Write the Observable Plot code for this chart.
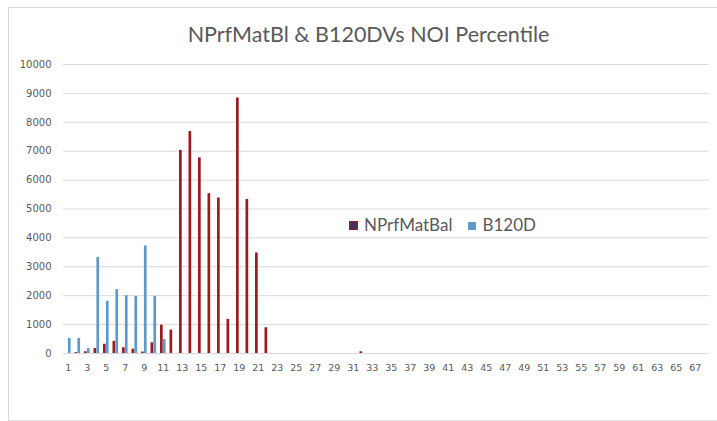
<!DOCTYPE html>
<html><head><meta charset="utf-8">
<script src="https://cdn.jsdelivr.net/npm/d3@7"></script>
<script src="https://cdn.jsdelivr.net/npm/@observablehq/plot@0.6"></script>
<style>
body{margin:0;background:#fff;}
#wrap{position:relative;width:717px;height:421px;overflow:hidden;background:#fff;}
#frame{position:absolute;left:8px;top:7px;width:720px;height:412px;border-left:1px solid #d9d9d9;border-top:1px solid #d9d9d9;border-bottom:1px solid #e6e6e6;}
#title{position:absolute;left:10px;top:20px;width:717px;text-align:center;font-family:Lato,"Open Sans",sans-serif;font-size:21.5px;line-height:28px;color:#595959;}
#legend{position:absolute;left:349px;top:214px;font-family:Lato,"Open Sans",sans-serif;font-size:17px;line-height:22px;color:#595959;white-space:nowrap;}
#legend span.sw{display:inline-block;width:8px;height:8px;vertical-align:middle;margin-right:6px;position:relative;top:-1px;}
#legend span.item{margin-right:16px;}
#chart{position:absolute;left:0;top:0;}
</style></head><body>
<div id="wrap"><div id="frame"></div><div id="chart"></div><div id="title"></div><div id="legend"></div></div>
<script>
const chartTitle = "NPrfMatBl & B120DVs NOI Percentile";
const seriesNames = ["NPrfMatBal", "B120D"];
const seriesColors = ["#9a1b22", "#5b9bcc"];
const categories = [1,2,3,4,5,6,7,8,9,10,11,12,13,14,15,16,17,18,19,20,21,22,23,24,25,26,27,28,29,30,31,32,33,34,35,36,37,38,39,40,41,42,43,44,45,46,47,48,49,50,51,52,53,54,55,56,57,58,59,60,61,62,63,64,65,66,67,68];
const nprfMatBal = [0,30,60,170,320,420,200,150,50,370,980,810,7030,7680,6770,5530,5380,1180,8840,5330,3480,890,0,0,0,0,0,0,0,0,0,60,0,0,0,0,0,0,0,0,0,0,0,0,0,0,0,0,0,0,0,0,0,0,0,0,0,0,0,0,0,0,0,0,0,0,0,0];
const b120d = [520,520,170,3320,1810,2210,2000,1980,3720,1980,480,0,0,0,0,0,0,0,0,0,0,0,0,0,0,0,0,0,0,0,0,0,0,0,0,0,0,0,0,0,0,0,0,0,0,0,0,0,0,0,0,0,0,0,0,0,0,0,0,0,0,0,0,0,0,0,0,0];
const yTicks = [0,1000,2000,3000,4000,5000,6000,7000,8000,9000,10000];
const xTickLabels = [1,3,5,7,9,11,13,15,17,19,21,23,25,27,29,31,33,35,37,39,41,43,45,47,49,51,53,55,57,59,61,63,65,67];

const redData = categories.map((c, i) => ({cat: c, value: nprfMatBal[i]}));
const blueData = categories.map((c, i) => ({cat: c, value: b120d[i]}));

document.getElementById("title").textContent = chartTitle;
document.getElementById("legend").innerHTML =
  `<span class="item"><span class="sw" style="background:#4a2f5a;border:1px solid ${seriesColors[0]};width:7px;height:7px"></span>${seriesNames[0]}</span>` +
  `<span class="item"><span class="sw" style="background:${seriesColors[1]}"></span>${seriesNames[1]}</span>`;

const plot = Plot.plot({
  width: 717,
  height: 421,
  marginLeft: 63,
  marginRight: 8,
  marginTop: 64,
  marginBottom: 68,
  style: {fontFamily: "DejaVu Sans", fontSize: "9.5px", color: "#595959", background: "transparent"},
  x: {type: "band", domain: categories, padding: 0},
  y: {domain: [0, 10000]},
  marks: [
    Plot.gridY(yTicks, {stroke: "#d9d9d9", strokeOpacity: 1}),
    Plot.barY(redData, {x: "cat", y: "value", fill: seriesColors[0], insetLeft: 2.0, insetRight: 4.8}),
    Plot.barY(blueData, {x: "cat", y: "value", fill: seriesColors[1], insetLeft: 4.9, insetRight: 1.9}),
    Plot.axisY(yTicks, {tickSize: 0, tickPadding: 12, tickFormat: d => String(d), label: null, fill: "#595959", fontSize: 10}),
    Plot.axisX(xTickLabels, {tickSize: 0, tickPadding: 11, label: null, fill: "#595959", fontSize: 9.5})
  ]
});
document.getElementById("chart").appendChild(plot);
</script>
</body></html>
